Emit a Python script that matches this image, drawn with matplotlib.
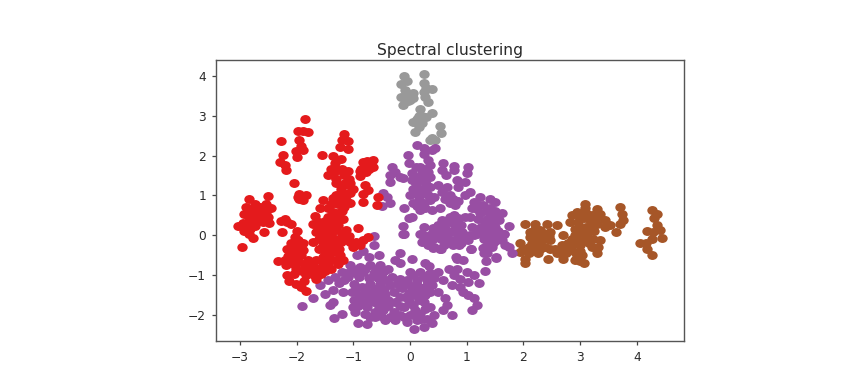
import matplotlib
matplotlib.use("Agg")
import matplotlib.pyplot as plt
from matplotlib.path import Path
from matplotlib.markers import MarkerStyle
from matplotlib.transforms import Affine2D

title = "Spectral clustering"
x_ticks = [-3, -2, -1, 0, 1, 2, 3, 4]
y_ticks = [-2, -1, 0, 1, 2, 3, 4]

red_points = [
(-1.85,2.93),(-1.98,2.62),(-1.88,2.62),(-1.79,2.60),(-2.28,2.36),(-1.95,2.38),(-1.92,2.23),(-2.01,2.12),(-1.88,2.13),(-1.99,1.97),
(-2.24,2.02),(-2.29,1.84),(-2.21,1.76),(-2.19,1.64),(-1.55,2.02),(-1.16,2.55),(-1.20,2.40),(-1.10,2.37),(-1.24,2.22),(-1.10,2.17),
(-1.36,1.98),(-1.21,1.92),(-1.33,1.80),(-1.39,1.67),(-1.27,1.63),(-1.45,1.50),(-1.36,1.50),(-0.66,1.90),(-0.83,1.84),(-0.74,1.76),
(-0.66,1.71),(-0.86,1.67),(-0.77,1.59),(-0.89,1.48),(-1.16,1.50),(-1.07,1.42),(-1.10,1.25),(-1.21,1.17),(-1.01,1.17),(-1.13,1.04),
(-1.30,1.30),(-0.80,1.25),(-0.74,1.13),(-0.83,1.04),(-2.04,1.32),(-1.95,1.04),(-1.84,1.02),(-1.95,0.92),(-1.88,0.89),(-1.98,0.96),
(-1.53,0.89),(-0.83,0.84),(-1.36,0.94),(-1.24,0.92),(-1.13,0.88),(-1.27,0.79),(-1.16,0.71),(-1.39,0.79),(-1.59,0.68),(-1.45,0.69),
(-0.56,0.96),(-0.59,0.75),(-2.50,0.98),(-2.83,0.90),(-2.74,0.79),(-2.89,0.71),(-2.80,0.62),(-2.69,0.62),(-2.54,0.78),(-2.45,0.67),
(-2.54,0.58),(-2.92,0.52),(-2.83,0.46),(-2.66,0.46),(-2.51,0.46),(-2.77,0.33),(-2.60,0.33),(-2.48,0.31),(-3.04,0.23),(-2.89,0.21),
(-2.74,0.22),(-2.92,0.10),(-2.83,0.04),(-2.76,-0.06),(-2.57,0.07),(-2.96,-0.31),(-2.21,0.41),(-2.27,0.36),(-2.16,0.33),(-2.10,0.27),
(-2.26,0.09),(-2.00,0.11),(-1.67,0.48),(-1.71,0.29),(-1.60,0.33),(-1.45,0.46),(-1.30,0.41),(-1.19,0.41),(-1.54,0.21),(-1.42,0.25),
(-1.27,0.25),(-1.66,0.08),(-1.51,0.04),(-1.39,0.04),(-1.13,0.14),(-0.91,0.19),(-1.60,-0.09),(-1.45,-0.13),(-1.33,-0.09),(-1.07,-0.03),
(-1.71,-0.17),(-1.54,-0.26),(-1.39,-0.30),(-0.95,-0.17),(-0.83,-0.13),(-0.74,-0.05),(-1.21,-0.17),(-1.01,-0.30),(-0.89,-0.26),(-1.98,-0.13),
(-2.10,-0.21),(-1.89,-0.21),(-2.17,-0.36),(-2.01,-0.34),(-1.88,-0.38),(-2.07,-0.51),(-1.92,-0.51),(-2.21,-0.63),(-2.33,-0.65),(-2.10,-0.67),
(-1.95,-0.67),(-1.80,-0.63),(-1.66,-0.63),(-1.54,-0.55),(-1.36,-0.42),(-1.24,-0.51),(-1.19,-0.63),(-1.39,-0.63),(-1.54,-0.76),(-1.69,-0.80),
(-1.83,-0.84),(-2.19,-0.76),(-2.01,-0.84),(-2.17,-0.99),(-2.04,-0.97),(-1.83,-1.01),(-1.69,-1.01),(-1.57,-0.97),(-1.39,-0.84),(-1.27,-0.72),
(-2.14,-1.16),(-2.01,-1.22),(-1.92,-1.30),(-1.83,-1.40),(-1.86,-1.14),
(-1.60,0.20),(-1.45,0.15),(-1.30,0.12),(-1.20,0.05),(-1.55,-0.05),(-1.45,-0.02),(-1.25,-0.10),(-1.50,0.35),(-1.35,0.35),(-1.62,0.12),
(-1.45,-0.25),(-1.60,-0.35),(-1.30,-0.25),(-1.50,-0.42),(-1.25,-0.35),(-1.45,-0.52),(-1.30,-0.62),(-1.55,-0.65),(-1.45,-0.75),(-1.60,-0.85),
(-1.50,-0.90),(-1.75,-0.72),(-1.85,-0.75),(-2.05,-0.60),(-2.15,-0.52),(-2.02,-0.75),(-1.90,-0.90),(-1.75,-0.92),(-1.65,-1.10),(-2.10,-0.40),
(-1.95,-0.25),(-2.02,-0.05),(-1.10,-0.10),(-1.05,-0.17),(-1.15,1.30),(-1.05,1.30),(-1.20,1.05),(-1.05,1.05),(-1.30,1.00),(-1.20,0.85),
(-1.05,0.80),(-1.30,0.92),(-1.20,1.65),(-1.10,1.60),(-1.30,1.40),(-0.80,1.72),(-0.72,1.65),(-0.88,1.60),(-0.75,1.85),(-1.27,0.55),
(-1.35,0.58),(-1.20,0.60),(-2.75,0.50),(-2.62,0.55),(-2.70,0.38),(-2.55,0.40),(-2.85,0.60),(-2.65,0.70),(-2.80,0.30),(-2.95,0.30),(-2.82,0.15),
]

purple_points = [
(-0.64,-0.03),(-0.64,-0.25),(-0.82,-0.39),(-0.94,-0.50),(-0.55,-0.50),(-0.73,-0.54),(-0.18,-0.44),(-0.26,-0.63),(-0.17,-0.71),(0.03,-0.61),
(0.27,-0.69),(0.33,-0.78),(-1.05,-0.75),(-0.88,-0.80),(-0.70,-0.75),(-0.53,-0.75),(-0.38,-0.84),(-1.20,-0.92),(-1.32,-1.05),(-1.44,-1.13),
(-1.58,-1.26),(-1.17,-1.13),(-1.26,-1.20),(-1.11,-0.96),(-1.36,-1.38),(-1.19,-1.42),(-1.50,-1.49),(-1.71,-1.58),(-1.90,-1.79),(-1.35,-1.68),
(-1.41,-1.76),(-1.20,-1.97),(-1.34,-2.08),(-0.97,-0.96),(-0.82,-0.92),(-0.64,-0.96),(-0.50,-0.96),(-0.32,-1.05),(-0.17,-1.09),(-0.99,-1.22),
(-0.85,-1.30),(-0.70,-1.22),(-0.53,-1.22),(-0.35,-1.26),(-1.03,-1.42),(-0.88,-1.51),(-0.73,-1.51),(-0.58,-1.47),(-0.44,-1.47),(-0.29,-1.42),
(-0.98,-1.63),(-0.82,-1.68),(-0.64,-1.68),(-0.47,-1.68),(-0.26,-1.68),(-0.97,-1.93),(-0.79,-1.97),(-0.61,-1.93),(-0.47,-1.89),(-0.29,-1.93),
(-0.91,-2.22),(-0.76,-2.24),(-0.61,-2.05),(-0.44,-2.14),(-0.26,-2.14),(-0.11,-2.05),(0.00,-0.92),(0.18,-0.92),(0.36,-0.96),(-0.05,-1.13),
(0.12,-1.13),(0.30,-1.13),(-0.14,-1.34),(0.03,-1.34),(0.21,-1.34),(0.39,-1.26),(-0.08,-1.55),(0.09,-1.51),(0.27,-1.51),(-0.11,-1.80),
(0.06,-1.76),(0.24,-1.68),(0.36,-1.80),(0.00,-2.01),(0.18,-1.97),(-0.05,-2.18),(0.12,-2.14),(0.30,-2.10),(0.42,-2.01),(0.07,-2.35),
(0.24,-2.30),(0.39,-2.20),(0.50,-1.44),(0.50,-0.92),(0.59,-1.13),(0.65,-1.76),(0.62,-1.59),(0.74,-2.01),(0.59,-1.89),(0.68,-0.84),
(0.83,-0.84),(1.00,-0.92),(1.12,-1.01),(0.77,-1.01),(0.89,-1.09),(0.74,-1.26),(0.89,-1.30),(1.03,-1.17),(1.21,-1.21),(0.94,-1.42),
(1.03,-1.51),(1.12,-1.59),(1.18,-1.76),(1.09,-1.89),(1.32,-0.90),(0.83,-0.59),(0.94,-0.63),(1.07,-0.36),(1.34,-0.65),(1.52,-0.57),
(-0.11,0.04),(0.21,0.04),(0.27,-0.13),(0.42,-0.29),(0.54,-0.34),(0.36,0.00),(0.50,-0.04),(0.65,0.00),(0.77,-0.13),(0.86,-0.25),
(1.00,-0.04),(1.12,0.00),(1.24,0.08),(1.36,0.00),(1.33,-0.29),(1.30,-0.46),(1.47,-0.21),(1.62,-0.13),(1.74,-0.29),(1.44,0.04),
(1.65,0.04),(0.13,2.26),(0.24,2.20),(0.44,2.18),(0.38,2.14),(0.24,2.05),(-0.03,2.01),(-0.01,1.80),(0.32,1.89),(0.18,1.72),
(0.35,1.76),(0.59,1.80),(0.56,1.63),(0.77,1.74),(0.77,1.63),(1.03,1.72),(1.00,1.55),(0.64,1.51),(-0.32,1.72),(-0.26,1.59),
(-0.35,1.51),(-0.18,1.47),(-0.35,1.34),(-0.12,1.43),(0.03,1.55),(0.21,1.55),(0.32,1.59),(0.03,1.38),(0.18,1.38),(0.35,1.45),
(0.06,1.17),(0.21,1.17),(0.35,1.22),(0.00,1.01),(0.15,0.96),(0.32,1.01),(0.06,0.80),(0.24,0.80),(0.35,0.88),(0.18,0.63),
(0.03,0.46),(0.27,0.67),(-0.10,0.67),(-0.01,0.42),(-0.12,0.23),(-0.12,0.04),(0.50,1.26),(0.65,1.22),(0.56,1.09),(0.71,1.01),
(0.82,1.38),(0.97,1.34),(0.85,1.22),(1.06,1.09),(0.97,1.01),(0.71,0.80),(0.79,0.75),(0.53,0.67),(0.38,0.63),(1.24,0.96),
(1.41,0.92),(1.50,0.84),(1.12,0.84),(1.29,0.75),(1.09,0.67),(1.41,0.67),(1.62,0.55),(1.24,0.55),(1.41,0.50),(1.56,0.38),
(1.32,0.29),(1.74,0.24),(1.50,0.21),(1.35,0.08),(1.65,0.04),(1.53,-0.04),(1.38,-0.17),(1.29,-0.33),(1.68,-0.25),(1.79,-0.44),
(1.35,-0.46),(1.52,-0.54),(1.07,-0.36),(0.81,-0.54),(0.97,0.46),(0.71,0.46),(0.56,0.38),(0.85,0.34),(0.41,0.17),(0.62,0.17),
(0.77,0.13),(0.91,0.09),(1.09,0.21),(1.18,0.04),(0.47,0.00),(0.65,-0.04),(0.85,-0.13),(1.03,-0.13),(0.24,0.21),(0.18,0.04),
(0.21,-0.17),(0.32,-0.25),(0.53,-0.34),(0.41,-0.33),(0.77,0.50),(-0.47,1.05),(-0.41,0.96),(-0.35,0.81),(-0.50,0.73),
(-0.90,-1.05),(-0.72,-1.08),(-0.57,-1.08),(-0.42,-1.12),(-0.22,-1.20),(-0.95,-1.32),(-0.78,-1.40),(-0.62,-1.35),(-0.45,-1.35),(-0.20,-1.25),
(-0.92,-1.78),(-0.75,-1.80),(-0.55,-1.80),(-0.38,-1.78),(-0.18,-1.55),(-0.17,-1.78),(-1.00,-1.80),(-0.70,-2.05),(-0.52,-2.02),(-0.35,-2.05),
(-0.18,-2.00),(-0.02,-1.65),(0.15,-1.62),(0.08,-1.88),(0.26,-1.85),(0.10,-2.02),(0.05,-1.00),(0.25,-1.02),(0.42,-1.08),(0.12,-1.25),
(-0.03,-1.22),(0.30,-1.25),(0.15,-1.42),(-0.02,-1.45),(0.35,-1.42),(-0.38,-1.62),(-0.55,-1.58),(-0.72,-1.60),(-0.90,-1.58),(0.20,-2.10),
(-0.60,-0.85),(-0.80,-0.85),(-0.45,-0.90),(-1.00,-0.85),(-1.10,-1.05),(0.10,1.70),(0.25,1.65),(0.10,1.45),(0.25,1.45),(0.10,1.28),
(0.28,1.28),(0.08,1.08),(0.25,1.08),(0.15,0.88),(0.42,0.95),(0.13,0.72),(0.62,0.90),(0.75,0.90),(0.85,0.85),(1.20,0.75),
(1.35,0.60),(1.50,0.60),(1.20,0.40),(1.35,0.40),(1.50,0.45),(1.45,0.30),(1.25,0.20),(1.40,0.15),(1.55,0.10),(1.45,0.00),
(1.30,-0.10),(1.50,-0.15),(1.60,-0.10),(1.45,-0.30),(1.18,0.65),(1.05,0.45),(0.60,0.30),(0.75,0.30),(0.90,0.25),(0.50,0.25),
(0.70,0.08),(0.55,0.08),(0.40,0.08),(0.85,0.00),(0.55,-0.10),(0.70,-0.15),(0.95,0.00),(0.40,-0.10),(0.30,-0.08),(0.90,-0.20),
(0.60,-0.25),(1.05,0.00),(0.75,-0.25),(0.85,0.42),(0.65,0.35),
]

brown_points = [
(3.09,0.79),(3.09,0.67),(2.95,0.59),(2.85,0.50),(2.82,0.33),(3.29,0.65),(3.35,0.53),(3.44,0.38),(3.53,0.25),(3.44,0.21),
(3.06,0.42),(3.17,0.38),(2.97,0.33),(3.29,0.29),(3.00,0.17),(3.14,0.08),(2.91,0.00),(3.09,-0.13),(3.23,-0.09),(3.35,-0.13),
(3.32,-0.29),(3.29,-0.46),(3.00,-0.25),(2.91,-0.42),(3.03,-0.50),(2.91,-0.63),(3.06,-0.70),(2.79,-0.21),(2.79,-0.38),(2.70,0.00),
(2.68,-0.25),(2.70,-0.59),(2.59,-0.46),(2.44,-0.60),(2.47,-0.34),(2.03,0.27),(2.20,0.29),(2.42,0.29),(2.59,0.25),(2.12,0.08),
(2.29,0.12),(2.47,0.08),(2.18,-0.09),(2.35,-0.09),(2.47,-0.13),(2.26,-0.25),(2.09,-0.29),(1.94,-0.21),(1.94,-0.42),(2.09,-0.46),
(2.26,-0.46),(2.38,-0.29),(2.03,-0.59),(2.03,-0.70),(3.71,0.71),(3.73,0.54),(3.76,0.38),(3.71,0.27),(3.63,0.07),(4.26,0.63),
(4.36,0.54),(4.30,0.42),(4.35,0.25),(4.41,0.12),(4.17,0.11),(4.29,0.08),(4.45,-0.07),(4.27,-0.09),(4.05,-0.21),(4.16,-0.21),
(4.17,-0.36),(4.26,-0.49),
(2.25,0.00),(2.35,0.05),(2.20,0.15),(2.30,-0.15),(2.15,-0.20),(2.00,-0.35),(2.15,-0.35),(2.30,-0.35),(2.45,-0.02),(2.12,-0.05),
(2.55,-0.35),(2.65,-0.40),(2.75,-0.45),(2.85,-0.25),(2.95,-0.10),(3.05,0.05),(3.10,0.20),(3.20,0.20),(3.15,-0.10),(3.00,0.45),
(3.20,0.50),(3.10,0.55),(3.00,-0.40),(3.15,-0.20),(3.20,-0.30),(2.95,-0.55),(3.00,-0.65),(3.25,0.10),(2.90,0.15),(2.85,-0.10),(3.30,0.45),
]

gray_points = [
(-0.10,4.01),(0.24,4.05),(-0.15,3.80),(-0.06,3.88),(0.24,3.81),(0.38,3.67),(0.24,3.60),(-0.09,3.65),(-0.16,3.48),(-0.03,3.52),
(0.06,3.56),(-0.13,3.28),(0.27,3.48),(0.32,3.35),(0.18,3.16),(0.38,3.06),(0.29,2.96),(0.12,2.93),(0.06,2.83),(0.21,2.81),
(0.15,2.72),(0.08,2.60),(0.53,2.75),(0.54,2.56),(0.39,2.43),(0.35,2.39),(0.44,2.39),
(0.00,3.40),(-0.08,3.42),(-0.03,3.38),(0.06,3.44),(0.15,3.00),(0.20,2.95),(0.10,2.85),(0.28,3.70),(0.22,3.00),
]

fig = plt.figure(figsize=(8.6, 3.88), dpi=100)
ax = fig.add_axes([216/860, 47/388, 468/860, 281/388])

marker = MarkerStyle(Path.unit_circle().transformed(Affine2D().scale(1.0, 0.86)))
clusters = [(gray_points, "#999999"), (brown_points, "#a65628"), (purple_points, "#984ea3"), (red_points, "#e41a1c")]
for pts, col in clusters:
    ax.scatter([p[0] for p in pts], [p[1] for p in pts], s=56, c=col, marker=marker, linewidths=0)

ax.set_xlim(-3.42, 4.83)
ax.set_ylim(-2.66, 4.40)
ax.set_xticks(x_ticks)
ax.set_yticks(y_ticks)
ax.tick_params(labelsize=8.8, length=2.6, width=0.9, color="#444444", labelcolor="#2a2a2a", pad=4.5)
for s in ax.spines.values():
    s.set_linewidth(1.0)
    s.set_color("#555555")
ax.set_title(title, fontsize=11.2, color="#2a2a2a", pad=3.5)
fig.savefig("out.png", dpi=100, facecolor="white")
